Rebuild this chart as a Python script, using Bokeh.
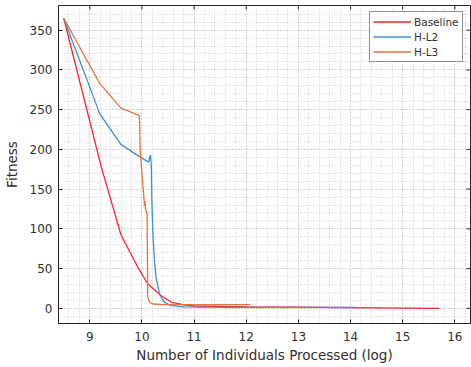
from bokeh.plotting import figure
from bokeh.models import FixedTicker, Legend, LegendItem, Range1d
from bokeh.embed import file_html
from bokeh.resources import INLINE

# ---- data ----
baseline_x = [8.5, 9.22, 9.6, 9.92, 10.11, 10.37, 10.56, 10.8, 11.0, 12.0, 13.0, 14.0, 15.0, 15.7]
baseline_y = [365, 178, 92, 52, 31, 16, 8, 4.5, 3, 2, 1.5, 1, 0.4, 0]

hl2_x = [8.5, 9.19, 9.6, 10.0, 10.13, 10.15, 10.165, 10.18, 10.19, 10.21, 10.24, 10.27,
         10.34, 10.43, 10.56, 10.8, 11.14, 12.0, 13.0, 14.14]
hl2_y = [365, 245, 206, 189, 184, 190, 193, 178, 136, 94, 60, 39,
         18, 7.6, 3.4, 2, 1.5, 1.3, 1.2, 1.1]

hl3_x = [8.5, 9.19, 9.6, 9.93, 9.95, 9.97, 9.99, 10.02, 10.05, 10.06, 10.07, 10.10,
         10.11, 10.15, 10.21, 10.37, 11.0, 12.08]
hl3_y = [365, 283, 252, 243, 242, 195, 178, 153, 129, 135, 124, 119,
         14, 7.6, 5.5, 4.9, 4.8, 4.7]

x_ticks = [9, 10, 11, 12, 13, 14, 15, 16]
y_ticks = [0, 50, 100, 150, 200, 250, 300, 350]
series_names = ["Baseline", "H-L2", "H-L3"]
series_colors = ["#ff2424", "#3d8ed2", "#e8733f"]

X0, X1 = 8.4, 16.3
Y0, Y1 = -19, 381

FONT = "DejaVu Sans"
TXT = "#303030"
W, H = 471, 367
ML, MR, MT, MB = 57, 1, 5, 44

p = figure(width=W, height=H, output_backend="svg", toolbar_location=None,
           x_range=Range1d(X0, X1), y_range=Range1d(Y0, Y1),
           min_border_left=ML, min_border_right=MR, min_border_top=MT, min_border_bottom=MB)

p.background_fill_color = "white"
p.border_fill_color = "white"
p.outline_line_color = "#262626"
p.outline_line_width = 1

for ax in (p.xaxis[0], p.yaxis[0]):
    ax.major_tick_in = 4
    ax.major_tick_out = 0
    ax.minor_tick_in = 0
    ax.minor_tick_out = 0
    ax.axis_line_color = "#262626"
    ax.major_tick_line_color = "#262626"
    ax.major_label_text_font = FONT
    ax.major_label_text_font_size = "12px"
    ax.major_label_text_color = TXT
    ax.axis_label_text_font = FONT
    ax.axis_label_text_font_size = "13.5px"
    ax.axis_label_text_font_style = "normal"
    ax.axis_label_text_color = TXT

p.xaxis.ticker = FixedTicker(ticks=x_ticks, minor_ticks=[round(8.4 + 0.2 * i, 2) for i in range(40)])
p.yaxis.ticker = FixedTicker(ticks=y_ticks, minor_ticks=[-10 + 10 * i for i in range(39)])
p.xaxis.axis_label = "Number of Individuals Processed (log)"
p.yaxis.axis_label = "Fitness"
p.xaxis.major_label_standoff = 8
p.yaxis.major_label_standoff = 6
p.xaxis.axis_label_standoff = 3
p.yaxis.axis_label_standoff = 7

# inward box ticks on top and right, derived from tick lists and ranges
frame_w = W - ML - MR
frame_h = H - MT - MB
dy = 4 * (Y1 - Y0) / frame_h
dx = 4 * (X1 - X0) / frame_w
p.segment(x0=x_ticks, y0=[Y1] * len(x_ticks), x1=x_ticks, y1=[Y1 - dy] * len(x_ticks),
          line_color="#262626", line_width=1)
p.segment(x0=[X1] * len(y_ticks), y0=y_ticks, x1=[X1 - dx] * len(y_ticks), y1=y_ticks,
          line_color="#262626", line_width=1)

for g in (p.xgrid[0], p.ygrid[0]):
    g.grid_line_color = "#a8a8a8"
    g.grid_line_dash = "1 2"
    g.grid_line_alpha = 0.6
    g.minor_grid_line_color = "#a8a8a8"
    g.minor_grid_line_dash = "1 2"
    g.minor_grid_line_alpha = 0.6

r1 = p.line(baseline_x, baseline_y, line_color=series_colors[0], line_width=1.3)
r2 = p.line(hl2_x, hl2_y, line_color=series_colors[1], line_width=1.3)
r3 = p.line(hl3_x, hl3_y, line_color=series_colors[2], line_width=1.3)

legend = Legend(items=[LegendItem(label=series_names[0], renderers=[r1]),
                       LegendItem(label=series_names[1], renderers=[r2]),
                       LegendItem(label=series_names[2], renderers=[r3])],
                location=(311, 261), margin=0, padding=3, spacing=2,
                label_height=13, glyph_height=13, glyph_width=38, label_standoff=3,
                label_text_font=FONT, label_text_font_size="10.5px", label_text_color=TXT,
                border_line_color="#262626", border_line_width=1,
                background_fill_color="white", background_fill_alpha=1)
p.add_layout(legend, "center")

open("out.html", "w").write(file_html(p, INLINE))
